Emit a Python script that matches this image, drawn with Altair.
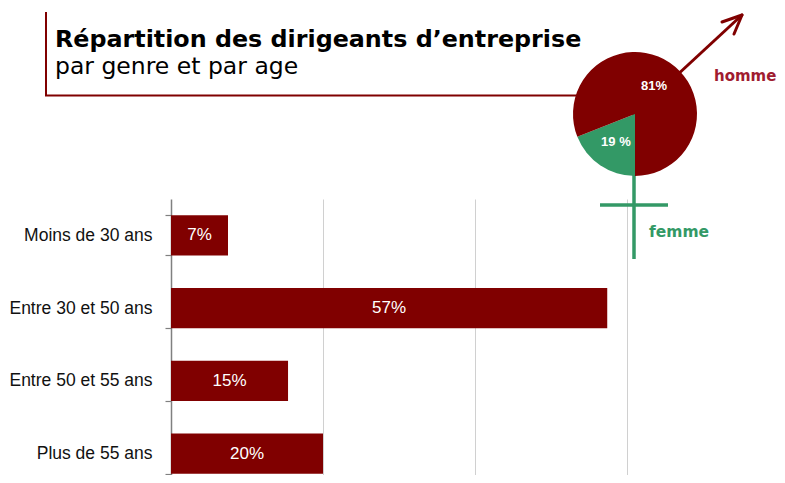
import math
import altair as alt
import pandas as pd

# ---- data ----
categories = ["Moins de 30 ans", "Entre 30 et 50 ans", "Entre 50 et 55 ans", "Plus de 55 ans"]
shares = [7.5, 57.4, 15.4, 20.0]
share_labels = ["7%", "57%", "15%", "20%"]

genres = ["femme", "homme"]
genre_shares = [19, 81]
genre_labels = ["19 %", "81%"]

title_text = "Répartition des dirigeants d’entreprise"
subtitle_text = "par genre et par age"
x_ticks = [20, 40, 60]

bars_df = pd.DataFrame({"cat": categories, "v": shares, "lab": share_labels})
pie_df = pd.DataFrame({"genre": genres, "v": genre_shares, "lab": genre_labels})
one = pd.DataFrame({"k": [0]})

MAROON = "#800000"
GREEN = "#339966"
HOMME = "#a01c30"

x_scale = alt.Scale(domain=[0, 80], range=[0, 608], nice=False)
y_scale = alt.Scale(domain=categories, range=[0, 291], paddingInner=0.45, paddingOuter=0.225)

bars = alt.Chart(bars_df).mark_bar(color=MAROON).encode(
    x=alt.X("v:Q", scale=x_scale,
            axis=alt.Axis(orient="top", values=x_ticks, grid=True, gridColor="#d0d0d0", gridWidth=1,
                          labels=False, ticks=False, domain=False, title=None)),
    y=alt.Y("cat:N", scale=y_scale, sort=categories,
            axis=alt.Axis(title=None, tickBand="extent", tickSize=6, tickColor="#808080",
                          domainColor="#808080", domainWidth=1.5, tickWidth=1.2,
                          labelFont="Liberation Sans", labelFontSize=17.5, labelColor="#111111",
                          labelPadding=13, labelLimit=300)),
)

bar_text = alt.Chart(bars_df).transform_calculate(mid="datum.v / 2").mark_text(
    color="white", font="Liberation Sans", fontSize=17, align="center", baseline="middle"
).encode(
    x=alt.X("mid:Q", scale=x_scale),
    y=alt.Y("cat:N", scale=y_scale, sort=categories),
    text="lab:N",
)

theta_scale = alt.Scale(domain=[0, 100], range=[math.pi, 3 * math.pi])
cx, cy = 464, -85

pie = alt.Chart(pie_df).mark_arc(outerRadius=62).encode(
    theta=alt.Theta("v:Q", stack=True, scale=theta_scale),
    color=alt.Color("genre:N", scale=alt.Scale(domain=genres, range=[GREEN, MAROON]), legend=None),
    order=alt.Order("genre:N"),
    x=alt.value(cx), y=alt.value(cy),
)

pie_text = alt.Chart(pie_df).mark_text(
    radius=34, font="Liberation Sans", fontWeight="bold", fontSize=13, color="white",
    align="center", baseline="middle"
).encode(
    theta=alt.Theta("v:Q", stack=True, scale=theta_scale),
    detail="genre:N",
    order=alt.Order("genre:N"),
    text="lab:N",
    x=alt.value(cx), y=alt.value(cy),
)


def seg(x1, y1, x2, y2, color, width, cap="butt"):
    return alt.Chart(one).mark_rule(color=color, strokeWidth=width, strokeCap=cap).encode(
        x=alt.value(x1), y=alt.value(y1), x2=alt.value(x2), y2=alt.value(y2)
    )


decor = [
    # title frame
    seg(-125, -187, -125, -103, MAROON, 2),
    seg(-126, -103.5, 440, -103.5, MAROON, 2),
    # male arrow
    seg(cx, cy, 571, -184, MAROON, 3),
    seg(571, -184, 551, -177, MAROON, 3, "round"),
    seg(571, -184, 563, -165, MAROON, 3, "round"),
    # female cross
    seg(463, cy, 463, 60, GREEN, 3.5),
    seg(429, 6, 497, 6, GREEN, 3.5),
]


def label(txt, x, y, size, color, weight="normal", font="DejaVu Sans", baseline="alphabetic"):
    return alt.Chart(one).mark_text(
        align="left", baseline=baseline, font=font, fontSize=size, fontWeight=weight, color=color
    ).encode(x=alt.value(x), y=alt.value(y), text=alt.value(txt))


texts = [
    label(title_text, -116, -152, 23.8, "#000000", "bold"),
    label(subtitle_text, -116, -125.5, 23.5, "#000000"),
    label("homme", 543, -123, 15, HOMME, "bold", baseline="middle"),
    label("femme", 478, 32.5, 15.5, GREEN, "bold", baseline="middle"),
]

chart = alt.layer(bars, bar_text, *decor, pie, pie_text, *texts).properties(
    width=606, height=276,
    autosize=alt.AutoSizeParams(type="none"),
    padding={"left": 163, "top": 191, "right": 0, "bottom": 0},
    background="white",
).configure_view(stroke=None)

chart.save("out.html", embed_options={"renderer": "svg", "actions": False})
